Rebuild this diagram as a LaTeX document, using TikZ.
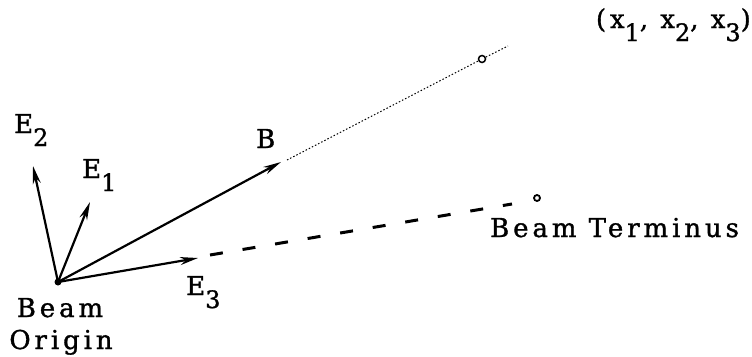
\documentclass[tikz,border=0pt]{standalone}
\usepackage{fontspec}
\setmainfont{DejaVu Serif}[LetterSpace=15, FakeBold=1.2]
\usetikzlibrary{arrows.meta}
\newcommand\lowd[1]{\raisebox{-13pt}{\fontsize{24}{24}\selectfont #1}}
\begin{document}
\begin{tikzpicture}[x=1pt,y=-1pt,
  lbl/.style={inner sep=0pt, font=\fontsize{26}{26}\selectfont},
  vec/.style={line width=2.2pt, -{Stealth[length=18pt,width=8pt]}},
  dotline/.style={line width=1pt, dash pattern=on 1.5pt off 2pt},
  dashline/.style={line width=3pt, dash pattern=on 13pt off 20pt},
  ring/.style={circle, draw, line width=1.5pt, inner sep=0pt, minimum size=7pt}]
\useasboundingbox (0,0) rectangle (752,356);
% points
\coordinate (O) at (58,282);
\coordinate (tE2) at (33,166);
\coordinate (tE1) at (90,202);
\coordinate (tB) at (281,162);
\coordinate (tE3) at (198,258);
\coordinate (Bstart) at (287,160);
\node[ring] (P) at (482,59) {};
\coordinate (Pend) at (508,46);
\coordinate (Dstart) at (210,255);
\coordinate (Dend) at (512,204);
\node[ring, minimum size=6pt, line width=1.8pt] (T) at (537,198) {};
\fill (O) circle (3.5);
% vectors
\draw[vec] (O) -- (tE2);
\draw[vec] (O) -- (tE1);
\draw[vec] (O) -- (tB);
\draw[vec] (O) -- (tE3);
% extensions
\draw[dotline] (Bstart) -- (P);
\draw[dotline] (P) -- (Pend);
\draw[dashline] (Dstart) -- (Dend);
% labels
\node[lbl, anchor=base west] (lE2) at (14,133) {E\lowd{2}};
\node[lbl, anchor=base west] (lE1) at (82,178) {E\lowd{1}};
\node[lbl, anchor=base west] (lB) at (256,148) {B};
\node[lbl, anchor=base west] (lE3) at (186,295) {E\lowd{3}};
\node[lbl, anchor=base] (lBeam) at (60,317) {Beam};
\node[lbl, anchor=base] (lOrigin) at (61,349) {Origin};
\node[lbl, anchor=base west] (lT) at (490,237) {Beam Terminus};
\node[lbl, anchor=base east] (lP) at (751,28) {(x\lowd{1}, x\lowd{2}, x\lowd{3})};
\end{tikzpicture}
\end{document}
